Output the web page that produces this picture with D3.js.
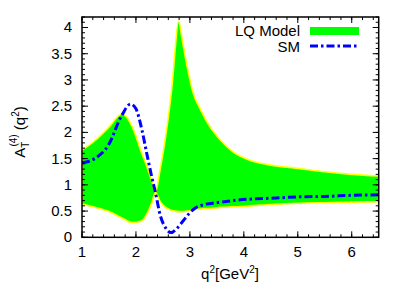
<!DOCTYPE html>
<html><head><meta charset="utf-8">
<script src="https://cdn.jsdelivr.net/npm/d3@7"></script>
<style>body{margin:0;background:#fff}text{font-family:"Liberation Sans",Arial,sans-serif}</style>
</head><body><svg id="c" width="409" height="300"></svg>
<script>
// LQ model band
const bandQ    = [1.0, 1.25, 1.5, 1.74, 1.93, 2.1, 2.22, 2.3, 2.36, 2.45, 2.54, 2.62, 2.68, 2.72, 2.79, 2.86, 2.94, 3.06, 3.19, 3.37, 3.56, 3.8, 4.11, 4.42, 5.04, 5.5, 6.0, 6.5];
const bandLow  = [0.635,0.57,0.49,0.37,0.28,0.31,0.48,0.68,0.86,0.68,0.58,0.53,0.51,0.5,0.49,0.49,0.5,0.52,0.54,0.55,0.57,0.58,0.6,0.62,0.65,0.66,0.67,0.68];
const bandHigh = [1.66,1.85,2.10,2.35,2.11,1.62,1.30,1.05,0.86,1.30,1.85,2.45,3.0,3.5,4.12,3.75,3.3,2.75,2.45,2.11,1.86,1.63,1.47,1.39,1.31,1.25,1.20,1.17];
// SM curve
const smQ   = [1.0, 1.1, 1.25, 1.49, 1.74, 1.9, 2.0, 2.11, 2.2, 2.3, 2.36, 2.45, 2.55, 2.65, 2.75, 2.88, 3.0, 3.1, 3.25, 3.5, 3.89, 4.6, 5.0, 5.5, 6.0, 6.5];
const smVal = [1.42,1.44,1.51,1.76,2.33,2.54,2.45,2.05,1.6,1.12,0.86,0.42,0.18,0.09,0.16,0.32,0.47,0.56,0.62,0.66,0.71,0.75,0.77,0.78,0.80,0.81];
const xTicks = [1,2,3,4,5,6];
const yTicks = [0,0.5,1,1.5,2,2.5,3,3.5,4];
const yTickLabels = ["0","0.5","1","1.5","2","2.5","3","3.5","4"];
const legendLabels = ["LQ Model","SM"];

const W=409,H=300,L=82,R=378.7,T=17,B=237.3;
const svg=d3.select("#c");
const x=d3.scaleLinear().domain([1,6.5]).range([L,R]);
const y=d3.scaleLinear().domain([0,4.2]).range([B,T]);

const band=bandQ.map((q,i)=>({q,lo:bandLow[i],hi:bandHigh[i]}));
const area=d3.area().x(d=>x(d.q)).y0(d=>y(d.lo)).y1(d=>y(d.hi)).curve(d3.curveMonotoneX);
svg.append("path").datum(band).attr("d",area).attr("fill","#00ff00").attr("stroke","#ffff00").attr("stroke-width",1.6);

const sm=smQ.map((q,i)=>({q,v:smVal[i]}));
const line=d3.line().x(d=>x(d.q)).y(d=>y(d.v)).curve(d3.curveMonotoneX);
const dash="8,3,2.5,3";
svg.append("path").datum(sm).attr("d",line).attr("fill","none").attr("stroke","#0000ff").attr("stroke-width",3).attr("stroke-dasharray",dash);

// axes with inner ticks on all sides
const g=svg.append("g");
const minorX=d3.range(1,6.5001,0.2), minorY=d3.range(0,4.2001,0.1);
minorX.forEach(v=>{const xx=x(v);g.append("line").attr("x1",xx).attr("x2",xx).attr("y1",B).attr("y2",B-3);g.append("line").attr("x1",xx).attr("x2",xx).attr("y1",T).attr("y2",T+3);});
xTicks.forEach(v=>{const xx=x(v);g.append("line").attr("x1",xx).attr("x2",xx).attr("y1",B).attr("y2",B-6);g.append("line").attr("x1",xx).attr("x2",xx).attr("y1",T).attr("y2",T+6);});
minorY.forEach(v=>{const yy=y(v);g.append("line").attr("x1",L).attr("x2",L+3).attr("y1",yy).attr("y2",yy);g.append("line").attr("x1",R).attr("x2",R-3).attr("y1",yy).attr("y2",yy);});
yTicks.forEach(v=>{const yy=y(v);g.append("line").attr("x1",L).attr("x2",L+6).attr("y1",yy).attr("y2",yy);g.append("line").attr("x1",R).attr("x2",R-6).attr("y1",yy).attr("y2",yy);});
g.selectAll("line").attr("stroke","#000").attr("stroke-width",1);
svg.append("rect").attr("x",L).attr("y",T).attr("width",R-L).attr("height",B-T).attr("fill","none").attr("stroke","#000").attr("stroke-width",1.5);

xTicks.forEach(v=>svg.append("text").attr("x",x(v)).attr("y",257).attr("text-anchor","middle").attr("font-size",15).text(v));
yTicks.forEach((v,i)=>svg.append("text").attr("x",72).attr("y",y(v)+5).attr("text-anchor","end").attr("font-size",15).text(yTickLabels[i]));

// x label
const xl=svg.append("text").attr("x",230).attr("y",279).attr("text-anchor","middle").attr("font-size",15);
xl.append("tspan").text("q");
xl.append("tspan").attr("font-size",10).attr("dy",-6).text("2");
xl.append("tspan").attr("dy",6).text("[GeV");
xl.append("tspan").attr("font-size",10).attr("dy",-6).text("2");
xl.append("tspan").attr("dy",6).text("]");

// y label
const yl=svg.append("text").attr("transform","translate(25,132) rotate(-90)").attr("text-anchor","middle").attr("font-size",15);
yl.append("tspan").text("A");
yl.append("tspan").attr("font-size",10).attr("dy",4).text("T");
yl.append("tspan").attr("font-size",10).attr("dx",-5).attr("dy",-12).text("(4)");
yl.append("tspan").attr("dy",8).text(" (q");
yl.append("tspan").attr("font-size",10).attr("dy",-6).text("2");
yl.append("tspan").attr("dy",6).text(")");

// legend
svg.append("text").attr("x",300).attr("y",36).attr("text-anchor","end").attr("font-size",15).text(legendLabels[0]);
svg.append("rect").attr("x",310).attr("y",27).attr("width",49).attr("height",8).attr("fill","#00ff00");
svg.append("text").attr("x",300).attr("y",52).attr("text-anchor","end").attr("font-size",15).text(legendLabels[1]);
svg.append("line").attr("x1",310).attr("x2",359).attr("y1",46).attr("y2",46).attr("stroke","#0000ff").attr("stroke-width",3).attr("stroke-dasharray",dash);
</script></body></html>
